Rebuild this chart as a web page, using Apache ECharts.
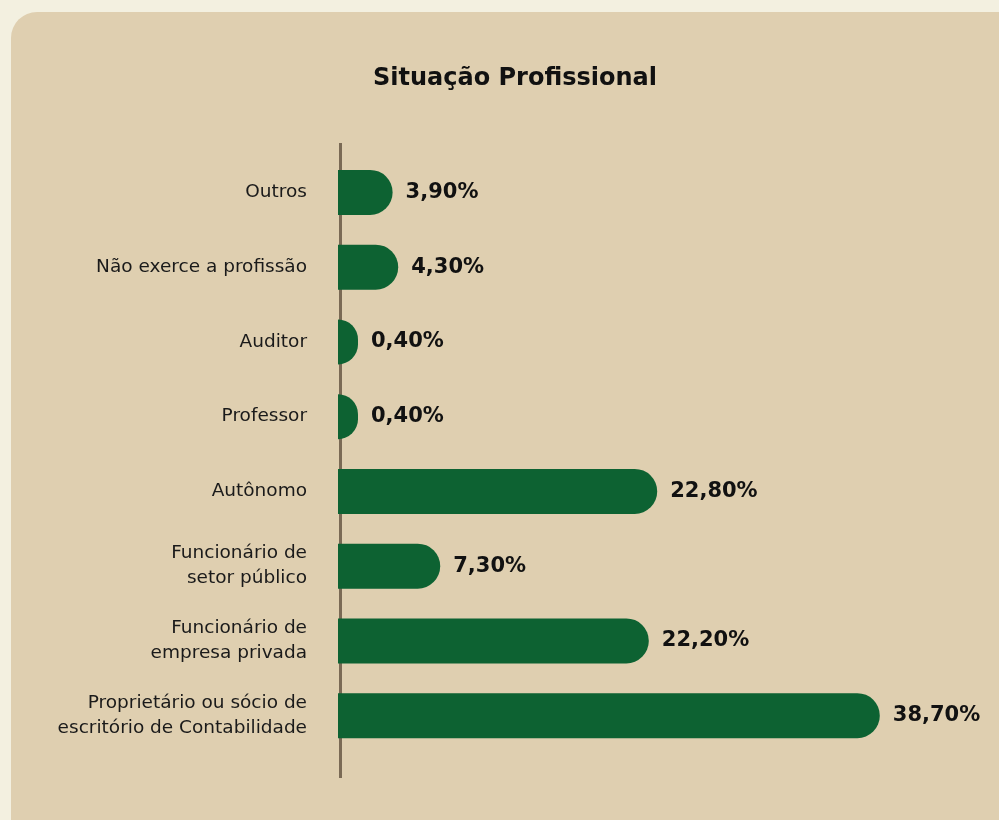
<!DOCTYPE html>
<html>
<head>
<meta charset="utf-8">
<script src="https://cdn.jsdelivr.net/npm/echarts@6/dist/echarts.min.js"></script>
<style>
  html, body { margin: 0; padding: 0; background: #f3f0e0; }
  #chart { width: 999px; height: 820px; }
</style>
</head>
<body>
<div id="chart"></div>
<script>
// categories, top to bottom
const categories = [
    'Outros',
    'Não exerce a profissão',
    'Auditor',
    'Professor',
    'Autônomo',
    'Funcionário de\nsetor público',
    'Funcionário de\nempresa privada',
    'Proprietário ou sócio de\nescritório de Contabilidade'
];
const percentages = [3.9, 4.3, 0.4, 0.4, 22.8, 7.3, 22.2, 38.7];

const green = '#0d6232';
const labelFont = '"DejaVu Sans", sans-serif';

let myChart = echarts.init(document.getElementById('chart'));

let option = {
    backgroundColor: '#f3f0e0',
    title: {
        text: 'Situação Profissional',
        left: 368,
        top: 62,
        textStyle: {
            fontFamily: labelFont,
            fontSize: 24,
            fontWeight: 'bold',
            color: '#111'
        }
    },
    graphic: [
        {
            type: 'rect',
            z: -10,
            silent: true,
            shape: { x: 11, y: 12, width: 1100, height: 900, r: 26 },
            style: { fill: '#dfcfb0' }
        },
        {
            // axis line runs past the plot area
            type: 'line',
            z: 1,
            silent: true,
            shape: { x1: 340.5, y1: 143, x2: 340.5, y2: 778 },
            style: { stroke: '#7a6a55', lineWidth: 3 }
        }
    ],
    grid: {
        left: 338,
        width: 560,
        top: 155,
        bottom: 67,
        containLabel: false
    },
    xAxis: {
        type: 'value',
        min: 0,
        max: 40,
        show: false
    },
    yAxis: {
        type: 'category',
        inverse: true,
        data: categories,
        axisLine: { show: false },
        axisTick: { show: false },
        axisLabel: {
            margin: 31,
            fontFamily: labelFont,
            fontSize: 18.5,
            lineHeight: 25,
            color: '#1a1a1a',
            align: 'right'
        }
    },
    series: [{
        type: 'bar',
        data: percentages,
        barWidth: 45,
        barMinHeight: 20,
        itemStyle: {
            color: green,
            borderRadius: [0, 23, 23, 0]
        },
        label: {
            show: true,
            position: 'right',
            distance: 13,
            fontFamily: labelFont,
            fontSize: 21,
            fontWeight: 'bold',
            color: '#111',
            formatter: p => p.value.toFixed(2).replace('.', ',') + '%'
        }
    }]
};

myChart.setOption(option);
</script>
</body>
</html>
